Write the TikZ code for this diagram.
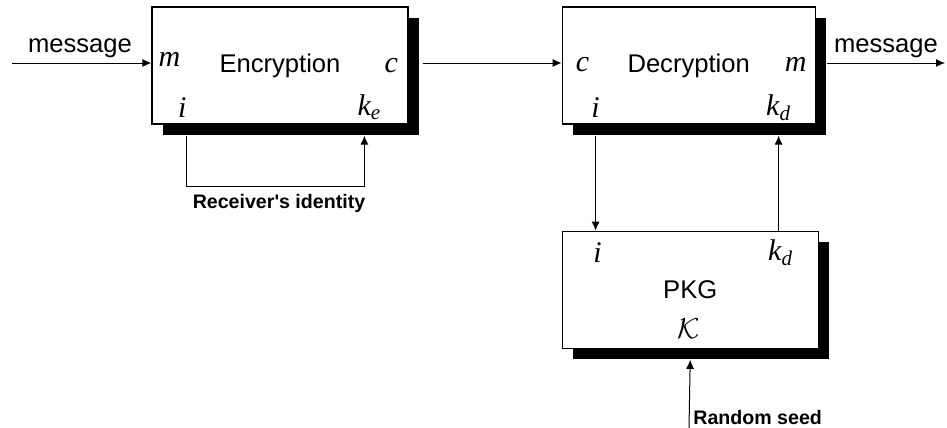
\documentclass[tikz,border=0pt]{standalone}
\usepackage{fontspec}
\setmainfont{Liberation Sans}
\newfontfamily\varfont{Liberation Serif}
\usetikzlibrary{positioning, arrows.meta, shadows}

\newcommand{\pv}[1]{{\varfont\itshape #1}}

\begin{document}
\begin{tikzpicture}[
    x=0.5pt, y=0.5pt,
    box/.style={rectangle, draw, fill=white, line width=0.6pt, minimum width=128pt,
                minimum height=58.5pt, inner sep=0pt, font=\fontsize{12.8}{15}\selectfont,
                drop shadow={shadow xshift=5.5pt, shadow yshift=-5.5pt, fill=black, opacity=1}},
    port/.style={inner sep=0pt, font=\fontsize{15}{17}\selectfont},
    lbl/.style={inner sep=0pt, font=\fontsize{12.8}{15}\selectfont},
    note/.style={inner sep=0pt, font=\fontsize{9.8}{12}\selectfont\bfseries},
    arr/.style={-{Latex[length=4.5pt, width=4pt]}, line width=0.5pt},
]
\useasboundingbox (0,0) rectangle (947,-428);

% Blocks
\node[box] (enc) at (280,-65.5) {Encryption};
\node[box, minimum width=126.5pt, right=76.5pt of enc] (dec) {Decryption};
\node[box, below=53pt of dec.south west, anchor=north west] (pkg) {PKG};

% Ports of the encryption block
\node[port] (encm) at ([shift={(18,-53)}]enc.north west) {\pv{m}};
\node[port] (encc) at ([shift={(240,-59)}]enc.north west) {\pv{c}};
\node[port] (enci) at ([shift={(31,-101)}]enc.north west) {\pv{i}};
\node[port] (enck) at ([shift={(218,-101)}]enc.north west) {\pv{k\textsubscript{e}}};

% Ports of the decryption block
\node[port] (decc) at ([shift={(21,-58)}]dec.north west) {\pv{c}};
\node[port] (decm) at ([shift={(234,-58)}]dec.north west) {\pv{m}};
\node[port] (deci) at ([shift={(34,-101)}]dec.north west) {\pv{i}};
\node[port] (deck) at ([shift={(217,-101)}]dec.north west) {\pv{k\textsubscript{d}}};

% Ports of the PKG
\node[port] (pkgi) at ([shift={(36,-22)}]pkg.north west) {\pv{i}};
\node[port] (pkgk) at ([shift={(219,-22)}]pkg.north west) {\pv{k\textsubscript{d}}};
\node[port] (pkgK) at ([shift={(127,-98)}]pkg.north west) {$\mathcal{K}$};

% Labels
\node[lbl] (msgin) at (80,-48) {message};
\node[lbl] (msgout) at (886,-48) {message};
\node[note] (rid) at (279,-203) {Receiver\textquotesingle s identity};
\node[note, anchor=west] (seed) at (693,-417) {Random seed};

% Free ends
\coordinate (src) at (12,-63);
\coordinate (dst) at (945,-63);
\coordinate (rnd) at (689,-428);

% Arrows
\draw[arr] (src) -- (src -| enc.west);
\draw[arr] ([shift={(14,2.5)}]enc.east) -- ([yshift=1.25pt]dec.west);
\draw[arr] ([shift={(11,2.5)}]dec.east) -- (dst);
\draw[arr] ([shift={(35,-11)}]enc.south west) -- ++(0,-51) -| ([shift={(213,-11)}]enc.south west);
\draw[arr] ([shift={(34,-11)}]dec.south west) -- ([xshift=17pt]pkg.north west);
\draw[arr] ([xshift=108.5pt]pkg.north west) -- ([shift={(217,-11)}]dec.south west);
\draw[arr] (rnd) -- ([yshift=-5.5pt]pkg.south);

\end{tikzpicture}
\end{document}
